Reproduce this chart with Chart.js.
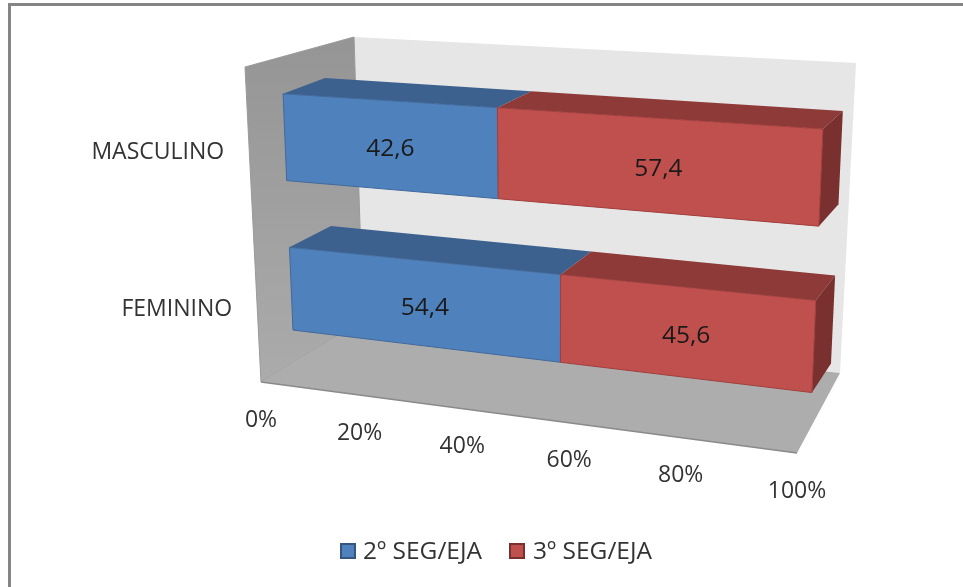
<!DOCTYPE html>
<html>
<head>
<meta charset="utf-8">
<title>SEG/EJA</title>
<style>
  html, body { margin: 0; padding: 0; background: #fff; }
  canvas { display: block; }
</style>
<script src="https://cdn.jsdelivr.net/npm/chart.js@4"></script>
</head>
<body>
<canvas id="segChart" width="963" height="587"></canvas>
<script>
const categories = ['MASCULINO', 'FEMININO'];
const seg2Values = [42.6, 54.4];
const seg3Values = [57.4, 45.6];
const tickValues = [0, 20, 40, 60, 80, 100];
const tickLabels = ['0%', '20%', '40%', '60%', '80%', '100%'];

const FONT = '23px "Open Sans", sans-serif';
const FONT_LARGE = '24.5px "Open Sans", sans-serif';

// Perspective box: quads are listed top-left, top-right, bottom-right, bottom-left
const boxFront = [[245, 67], [812, 106], [797, 453], [261, 382]];
const barFront = [[281.6, 59], [824.5, 90], [810.5, 428], [294.3, 362]];
const barBack = [[323.7, 44.5], [844.6, 73.5], [829.4, 397.5], [335.3, 336.5]];
const backWall = [[354, 37], [856, 63], [840, 373], [363, 320]];
const leftWall = [[245, 67], [354, 37], [363, 320], [261, 382]];
const floorQuad = [[261, 382], [797, 453], [840, 373], [363, 320]];

// Unit square to quad homography
function quadMap(q) {
  const [[x0, y0], [x1, y1], [x2, y2], [x3, y3]] = q;
  const dx1 = x1 - x2, dx2 = x3 - x2, sx = x0 - x1 + x2 - x3;
  const dy1 = y1 - y2, dy2 = y3 - y2, sy = y0 - y1 + y2 - y3;
  const den = dx1 * dy2 - dx2 * dy1;
  const g = (sx * dy2 - dx2 * sy) / den;
  const h = (dx1 * sy - sx * dy1) / den;
  const a = x1 - x0 + g * x1, b = x3 - x0 + h * x3;
  const d = y1 - y0 + g * y1, e = y3 - y0 + h * y3;
  return (u, v) => {
    const w = g * u + h * v + 1;
    return [(a * u + b * v + x0) / w, (d * u + e * v + y0) / w];
  };
}

const toBoxFront = quadMap(boxFront);
const toBarFront = quadMap(barFront);
const toBarBack = quadMap(barBack);

function fillQuad(ctx, pts, fill, stroke) {
  ctx.beginPath();
  pts.forEach((p, i) => (i ? ctx.lineTo(p[0], p[1]) : ctx.moveTo(p[0], p[1])));
  ctx.closePath();
  ctx.fillStyle = fill;
  ctx.fill();
  if (stroke) {
    ctx.strokeStyle = stroke;
    ctx.lineWidth = 1;
    ctx.stroke();
  }
}

const box3d = {
  id: 'box3d',
  beforeDraw(chart) {
    const ctx = chart.ctx;
    ctx.save();
    ctx.fillStyle = '#fff';
    ctx.fillRect(0, 0, chart.width, chart.height);
    // outer frame, runs off the right and bottom of the page
    ctx.fillStyle = '#858585';
    ctx.fillRect(8, 3, chart.width - 8, 3);
    ctx.fillRect(8, 3, 3, chart.height - 3);
    ctx.restore();
  },
  beforeDatasetsDraw(chart) {
    const ctx = chart.ctx;
    const area = chart.chartArea;
    const uOf = px => (px - area.left) / (area.right - area.left);
    const vOf = py => (py - area.top) / (area.bottom - area.top);

    ctx.save();
    fillQuad(ctx, backWall, '#e6e6e6');
    const wallGrad = ctx.createLinearGradient(0, 40, 0, 380);
    wallGrad.addColorStop(0, '#959595');
    wallGrad.addColorStop(1, '#ababab');
    fillQuad(ctx, leftWall, wallGrad, '#9a9a9a');
    fillQuad(ctx, floorQuad, '#adadad');
    ctx.strokeStyle = '#8a8a8a';
    ctx.lineWidth = 1.5;
    ctx.beginPath();
    ctx.moveTo(floorQuad[0][0], floorQuad[0][1]);
    ctx.lineTo(floorQuad[1][0], floorQuad[1][1]);
    ctx.stroke();

    ctx.textBaseline = 'middle';

    // Bars: position comes from the bar elements, then goes through the box projection
    categories.forEach((cat, i) => {
      const labels = [];
      chart.data.datasets.forEach((ds, d) => {
        const bar = chart.getDatasetMeta(d).data[i];
        const u0 = uOf(bar.base), u1 = uOf(bar.x);
        const v0 = vOf(bar.y - bar.height / 2), v1 = vOf(bar.y + bar.height / 2);
        const ftl = toBarFront(u0, v0), ftr = toBarFront(u1, v0);
        const fbr = toBarFront(u1, v1), fbl = toBarFront(u0, v1);
        const btl = toBarBack(u0, v0), btr = toBarBack(u1, v0), bbr = toBarBack(u1, v1);

        fillQuad(ctx, [btl, btr, ftr, ftl], ds.topColor);
        if (d === chart.data.datasets.length - 1) {
          fillQuad(ctx, [ftr, btr, bbr, fbr], ds.sideColor);
        }
        fillQuad(ctx, [ftl, ftr, fbr, fbl], ds.backgroundColor, ds.borderColor);
        labels.push({
          text: ds.data[i].toFixed(1).replace('.', ','),
          x: (ftl[0] + ftr[0] + fbr[0] + fbl[0]) / 4,
          y: (ftl[1] + ftr[1] + fbr[1] + fbl[1]) / 4
        });
      });

      ctx.font = FONT_LARGE;
      ctx.fillStyle = '#1a1a1a';
      ctx.textAlign = 'center';
      labels.forEach(l => ctx.fillText(l.text, l.x - 1, l.y + 4));
    });

    // Value axis labels sit under the front edge of the floor
    ctx.font = FONT;
    ctx.fillStyle = '#333';
    const xScale = chart.scales.x;
    tickValues.forEach((val, i) => {
      const p = toBoxFront(uOf(xScale.getPixelForValue(val)), 1);
      ctx.fillText(tickLabels[i], p[0], p[1] + 38);
    });

    // Category labels sit left of the box front edge
    const yScale = chart.scales.y;
    ctx.textAlign = 'right';
    categories.forEach((cat, i) => {
      const p = toBoxFront(0, vOf(yScale.getPixelForValue(i)));
      ctx.fillText(cat, p[0] - 25, p[1] + 3.5);
    });

    // Legend row
    const legendX = [[341, 363], [510, 533]];
    ctx.font = FONT_LARGE;
    ctx.textAlign = 'left';
    chart.data.datasets.forEach((ds, d) => {
      const [boxX, textX] = legendX[d];
      ctx.fillStyle = ds.backgroundColor;
      ctx.strokeStyle = ds.sideColor;
      ctx.lineWidth = 2;
      ctx.fillRect(boxX, 544, 14, 14);
      ctx.strokeRect(boxX, 544, 14, 14);
      ctx.fillStyle = '#333';
      ctx.fillText(ds.label, textX, 552);
    });
    ctx.restore();
    return false;
  }
};

new Chart(document.getElementById('segChart'), {
  type: 'bar',
  plugins: [box3d],
  data: {
    labels: categories,
    datasets: [{
      label: '2º SEG/EJA',
      data: seg2Values,
      backgroundColor: '#4f81bd',
      borderColor: '#41699b',
      borderWidth: 2,
      topColor: '#3d618f',
      sideColor: '#365680'
    }, {
      label: '3º SEG/EJA',
      data: seg3Values,
      backgroundColor: '#c0504d',
      borderColor: '#a03f3d',
      borderWidth: 2,
      topColor: '#8e3a38',
      sideColor: '#7a302e'
    }]
  },
  options: {
    indexAxis: 'y',
    responsive: false,
    animation: false,
    layout: { padding: { bottom: 60 } },
    datasets: { bar: { categoryPercentage: 1, barPercentage: 0.56 } },
    scales: {
      x: { display: false, stacked: true, min: 0, max: 100 },
      y: { display: false, stacked: true }
    },
    plugins: {
      tooltip: { enabled: false },
      legend: { display: false }
    }
  }
});
</script>
</body>
</html>
